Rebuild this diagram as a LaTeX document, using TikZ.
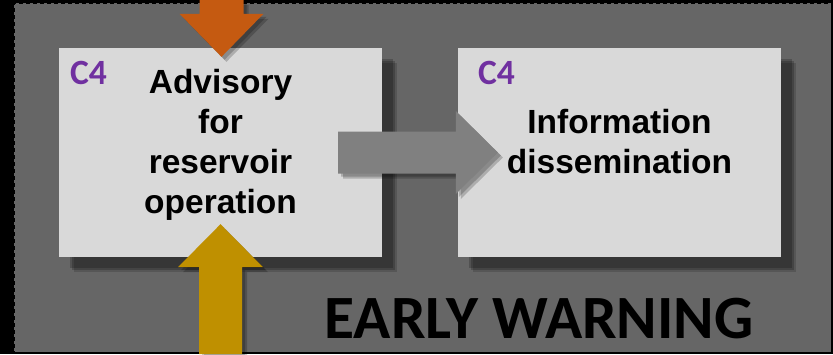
\documentclass[tikz,border=0pt]{standalone}
\usepackage{fontspec}
\setmainfont{Liberation Sans}
\newfontfamily\calibri{Carlito}
\usepackage{tikz}
\usetikzlibrary{calc,shadows}
\definecolor{panelgray}{HTML}{666666}
\definecolor{boxgray}{HTML}{D9D9D9}
\definecolor{arrgray}{HTML}{808080}
\definecolor{arrorange}{HTML}{C55A11}
\definecolor{arrgold}{HTML}{BF9000}
\definecolor{cpurple}{HTML}{7030A0}

\begin{document}
\begin{tikzpicture}[x=1pt,y=-1pt,
	stepbox/.style={fill=boxgray,minimum width=323pt,minimum height=209pt,inner sep=0pt,
		drop shadow={shadow xshift=15pt,shadow yshift=-15pt,fill=black,opacity=.15},
		drop shadow={shadow xshift=13pt,shadow yshift=-13pt,fill=black,opacity=.2},
		drop shadow={shadow xshift=11pt,shadow yshift=-11pt,fill=black,opacity=.2}},
	boxtext/.style={align=center,inner sep=0pt,font=\fontsize{33.5}{40}\selectfont\bfseries},
	ctag/.style={anchor=base west,inner sep=0pt,text=cpurple,font=\calibri\bfseries\fontsize{35.5}{40}\selectfont},
	arrshadow/.style={drop shadow={shadow xshift=5pt,shadow yshift=-5pt,fill=black,opacity=.2},
		drop shadow={shadow xshift=3pt,shadow yshift=-3pt,fill=black,opacity=.2}}]
	\useasboundingbox (0,0) rectangle (833,354);
	\fill[black] (0,0) rectangle (833,354);
	\node[fill=panelgray,draw=black,line width=1pt,dash pattern=on 4pt off 3pt,
		minimum width=817pt,minimum height=349pt,inner sep=0pt] (frame) at (422.5,177.5) {};

	\node[stepbox] (adv) at (220.5,152.5) {};
	\node[stepbox] (info) at (619.5,152.5) {};

	% block arrows
	\coordinate (gs) at ($(adv.east)+(-44,0)$);
	\coordinate (gt) at ($(info.west)+(40,0)$);
	\fill[arrgray,arrshadow] ($(gs)+(0,-21)$) -- ($(gt)+(-42,-21)$) -- ($(gt)+(-42,-41.5)$) -- (gt)
		-- ($(gt)+(-42,41.5)$) -- ($(gt)+(-42,21)$) -- ($(gs)+(0,21)$) -- cycle;

	\coordinate (os) at ($(adv.north)+(1,-48)$);
	\coordinate (ot) at ($(adv.north)+(1,9)$);
	\fill[arrorange,arrshadow] ($(os)+(-22,0)$) -- ($(ot)+(-22,-43)$) -- ($(ot)+(-42,-43)$) -- (ot)
		-- ($(ot)+(42,-43)$) -- ($(ot)+(22,-43)$) -- ($(os)+(22,0)$) -- cycle;

	\coordinate (bs) at ($(adv.south)+(0,97)$);
	\coordinate (bt) at ($(adv.south)+(0,-33)$);
	\fill[arrgold,arrshadow] ($(bs)+(-21.5,0)$) -- ($(bt)+(-21.5,43)$) -- ($(bt)+(-42.5,43)$) -- (bt)
		-- ($(bt)+(42.5,43)$) -- ($(bt)+(21.5,43)$) -- ($(bs)+(21.5,0)$) -- cycle;

	\node[boxtext] (advtxt) at ($(adv.center)+(0,-8)$) {Advisory\\for\\reservoir\\operation};
	\node[boxtext] (infotxt) at ($(info.center)+(0,-11)$) {Information\\dissemination};
	\node[ctag] (advtag) at ($(adv.north west)+(11,37)$) {C4};
	\node[ctag] (infotag) at ($(info.north west)+(20,37)$) {C4};

	\node[anchor=base,inner sep=0pt,font=\calibri\bfseries\fontsize{61.5}{72}\selectfont] (ewtitle) at (539,338) {EARLY WARNING};
\end{tikzpicture}
\end{document}
